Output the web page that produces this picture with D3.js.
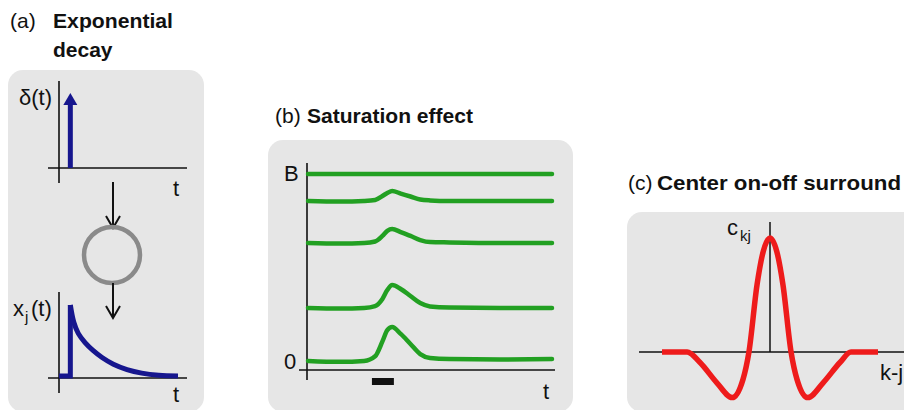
<!DOCTYPE html>
<html><head><meta charset="utf-8">
<script src="https://cdn.jsdelivr.net/npm/d3@7"></script>
<style>body{margin:0;background:#fff}svg{display:block;font-family:"Liberation Sans",Arial,sans-serif}</style>
</head><body><svg id="chart" width="904" height="410"></svg>
<script>
// ---------- DATA ----------
// (a) exponential decay
const impulseT = 1;            // time of the impulse
const impulseV = 1;            // impulse height (normalised)
const stepT = [0, 1, 1];
const stepV = [0, 0, 1];
const decayT = [1, 1.3, 1.7, 2.3, 3.0, 3.8, 4.8, 6.0, 7.3, 8.8, 10.5];
const decayV = [1, 0.76, 0.6, 0.47, 0.36, 0.26, 0.165, 0.09, 0.04, 0.01, 0];

// (b) saturation effect
const satT = [0, 1.3, 2.3, 2.75, 3.05, 3.25, 3.45, 3.8, 4.2, 4.6, 5.0, 5.8, 7.9, 10];
const satLevel1 = [1, 1, 1, 1, 1, 1, 1, 1, 1, 1, 1, 1, 1, 1];
const satLevel2 = [0.855, 0.852, 0.855, 0.860, 0.882, 0.898, 0.909, 0.895, 0.879, 0.863, 0.858, 0.855, 0.855, 0.855];
const satLevel3 = [0.629, 0.626, 0.629, 0.637, 0.667, 0.694, 0.704, 0.688, 0.667, 0.645, 0.634, 0.632, 0.629, 0.629];
const satLevel4 = [0.280, 0.277, 0.280, 0.290, 0.328, 0.376, 0.403, 0.382, 0.344, 0.306, 0.288, 0.282, 0.280, 0.280];
const satLevel5 = [-0.005, -0.01, -0.005, 0.02, 0.10, 0.16, 0.177, 0.14, 0.086, 0.032, 0.011, 0.005, 0.003, 0.005];
const stimulus = [2.62, 3.52];
const satTicks = ["B", "0"];

// (c) center on-off surround kernel
const kernelX = [-6, -4.6, -3.9, -2.95, -2.1, -1.5, -1.17, -0.72, -0.38, 0, 0.38, 0.72, 1.17, 1.5, 2.1, 2.95, 3.9, 4.5, 6];
const kernelV = [0, 0, -0.09, -0.27, -0.40, -0.24, 0, 0.59, 0.88, 1, 0.88, 0.59, 0, -0.24, -0.40, -0.27, -0.09, 0, 0];

// ---------- DRAW ----------
const svg = d3.select("#chart");
const BOX = "#e6e6e6", INK = "#111";
const BLUE = "#16168e", GREEN = "#22a022", RED = "#ee1b1b", GREY = "#8a8a8a";
const LS = 22; // label size

function box(x, y, w, h) {
  svg.append("rect").attr("x", x).attr("y", y).attr("width", w).attr("height", h)
    .attr("rx", 15).attr("ry", 15).attr("fill", BOX);
}
function title(x, y, label, bx, bold, bw) {
  svg.append("text").attr("x", x).attr("y", y).attr("font-size", 21).attr("fill", INK).text(label);
  const t = svg.append("text").attr("x", bx).attr("y", y).attr("font-size", 21)
    .attr("font-weight", "bold").attr("fill", INK).text(bold);
  if (bw) t.attr("textLength", bw).attr("lengthAdjust", "spacingAndGlyphs");
  return t;
}
function hline(x1, x2, y, w) {
  svg.append("line").attr("x1", x1).attr("x2", x2).attr("y1", y).attr("y2", y)
    .attr("stroke", INK).attr("stroke-width", w || 1.6);
}
function vline(x, y1, y2, w) {
  svg.append("line").attr("x1", x).attr("x2", x).attr("y1", y1).attr("y2", y2)
    .attr("stroke", INK).attr("stroke-width", w || 1.6);
}
function label(x, y, s, size) {
  return svg.append("text").attr("x", x).attr("y", y).attr("font-size", size || LS).attr("fill", INK).text(s);
}
function downArrow(x, y1, y2) {
  vline(x, y1, y2, 2);
  svg.append("path").attr("d", `M${x - 7},${y2 - 12}L${x},${y2}L${x + 7},${y2 - 12}`)
    .attr("fill", "none").attr("stroke", INK).attr("stroke-width", 2);
}

// ---- panel (a)
box(8, 70, 196, 342);
title(10, 28, "(a)", 53, "Exponential", 120);
svg.append("text").attr("x", 53).attr("y", 57).attr("font-size", 21).attr("font-weight", "bold")
  .attr("fill", INK).text("decay");

const xA = d3.scaleLinear().domain([0, 10.5]).range([59, 178]);
const yA1 = d3.scaleLinear().domain([0, 1]).range([168, 93]);
const yA2 = d3.scaleLinear().domain([0, 1]).range([376, 305]);

// top plot axes
vline(xA(0), 81, 183);
hline(48, 187, yA1(0));
// impulse arrow
svg.append("line").attr("x1", xA(impulseT)).attr("x2", xA(impulseT))
  .attr("y1", yA1(0)).attr("y2", yA1(impulseV * 0.85))
  .attr("stroke", BLUE).attr("stroke-width", 5);
svg.append("path")
  .attr("d", `M${xA(impulseT) - 7},${yA1(impulseV * 0.84)}L${xA(impulseT)},${yA1(impulseV)}L${xA(impulseT) + 7},${yA1(impulseV * 0.84)}Z`)
  .attr("fill", BLUE);
label(19, 105, "δ(t)");
label(173, 196, "t");

// arrows + neuron
downArrow(113, 182, 228);
svg.append("circle").attr("cx", 112).attr("cy", 255).attr("r", 28)
  .attr("fill", "none").attr("stroke", GREY).attr("stroke-width", 4.5);
downArrow(113, 283, 318);

// bottom plot
vline(xA(0), 292, 393);
hline(48, 187, 378);
const stepLine = d3.line().x((d, i) => xA(stepT[i])).y((d, i) => yA2(stepV[i]));
svg.append("path").attr("d", stepLine(stepT)).attr("fill", "none")
  .attr("stroke", BLUE).attr("stroke-width", 5).attr("stroke-linejoin", "miter");
const decayLine = d3.line().curve(d3.curveCatmullRom.alpha(0.5)).x((d, i) => xA(decayT[i])).y((d, i) => yA2(decayV[i]));
svg.append("path").attr("d", decayLine(decayT)).attr("fill", "none")
  .attr("stroke", BLUE).attr("stroke-width", 5);
label(13, 316, "x");
svg.append("text").attr("x", 25).attr("y", 322).attr("font-size", 15).attr("fill", INK).text("j");
label(31, 316, "(t)");
label(173, 402, "t");

// ---- panel (b)
box(268, 140, 305, 272);
title(275, 123, "(b)", 307, "Saturation effect", 166);
const xB = d3.scaleLinear().domain([0, 10]).range([308, 552]);
const yB = d3.scaleLinear().domain([0, 1]).range([360, 174]);
vline(307, 163, 380);
hline(299, 555, 370);
const satLine = d3.line().curve(d3.curveMonotoneX).x((d, i) => xB(satT[i])).y(d => yB(d));
[satLevel1, satLevel2, satLevel3, satLevel4, satLevel5].forEach(s => {
  svg.append("path").attr("d", satLine(s)).attr("fill", "none")
    .attr("stroke", GREEN).attr("stroke-width", 4.5).attr("stroke-linecap", "round");
});
svg.append("rect").attr("x", xB(stimulus[0])).attr("y", 378)
  .attr("width", xB(stimulus[1]) - xB(stimulus[0])).attr("height", 7).attr("fill", INK);
label(284, 181, satTicks[0]);
label(284, 369, satTicks[1]);
label(543, 399, "t");

// ---- panel (c)
box(627, 212, 300, 200);
title(628, 190, "(c)", 657, "Center on-off surround", 244);
const xC = d3.scaleLinear().domain([-6, 6]).range([662, 878]);
const yC = d3.scaleLinear().domain([0, 1]).range([352, 238]);
hline(639, 904, yC(0));
vline(xC(0), 222, yC(0), 1.5);
const kLine = d3.line().curve(d3.curveMonotoneX).x((d, i) => xC(kernelX[i])).y(d => yC(d));
svg.append("path").attr("d", kLine(kernelV)).attr("fill", "none")
  .attr("stroke", RED).attr("stroke-width", 5.5).attr("stroke-linecap", "butt");
label(727, 235, "c");
svg.append("text").attr("x", 740).attr("y", 241).attr("font-size", 15).attr("fill", INK).text("kj");
label(880, 380, "k-j");
</script></body></html>
